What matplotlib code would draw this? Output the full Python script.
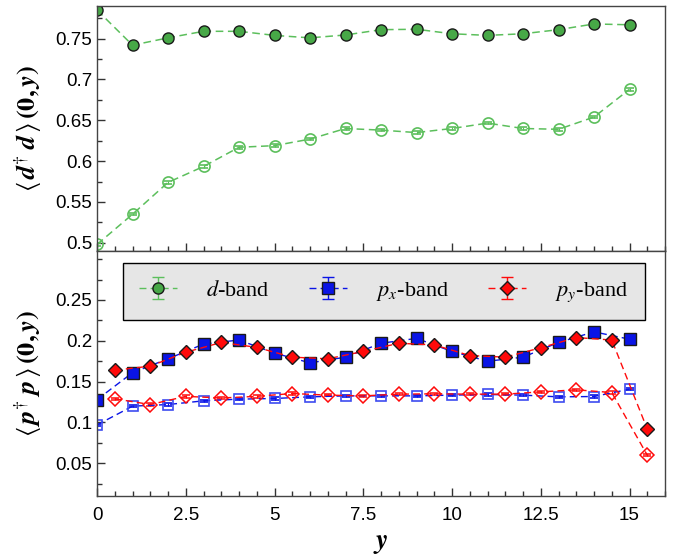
import matplotlib
matplotlib.use("Agg")
import matplotlib.pyplot as plt
import numpy as np
from matplotlib.ticker import MultipleLocator, FixedLocator, FuncFormatter

plt.rcParams['font.family'] = ['Liberation Sans', 'DejaVu Sans']
plt.rcParams['mathtext.fontset'] = 'stix'

# site positions along y
y_int = np.arange(0, 16)
y_half = np.arange(0.5, 16.0, 1.0)

# d-band: filled and open series
d_filled = [0.785, 0.742, 0.751, 0.759, 0.759, 0.754, 0.751, 0.7545,
            0.761, 0.7615, 0.756, 0.754, 0.756, 0.761, 0.768, 0.767]
d_open = [0.498, 0.535, 0.574, 0.5935, 0.617, 0.619, 0.627, 0.640,
          0.638, 0.635, 0.640, 0.6466, 0.640, 0.639, 0.654, 0.688]

# px-band (integer sites)
px_filled = [0.128, 0.161, 0.178, 0.196, 0.201, 0.185, 0.173, 0.180,
             0.197, 0.203, 0.187, 0.175, 0.180, 0.198, 0.211, 0.202]
px_open = [0.097, 0.120, 0.122, 0.1265, 0.1286, 0.1294, 0.1314, 0.1326,
           0.1326, 0.1326, 0.1335, 0.1343, 0.1335, 0.1314, 0.1318, 0.1408]

# py-band (half-integer sites)
py_filled = [0.164, 0.169, 0.186, 0.198, 0.192, 0.180, 0.178, 0.187,
             0.197, 0.195, 0.182, 0.180, 0.1915, 0.204, 0.201, 0.092]
py_open = [0.129, 0.122, 0.132, 0.130, 0.132, 0.1355, 0.1335, 0.1326,
           0.1347, 0.1351, 0.1347, 0.1347, 0.1375, 0.140, 0.1367, 0.060]

err = 0.0015

green_face = '#47a847'
green_line = '#5cbf5c'
blue = '#0a14e6'
red = '#ff0a0a'

fig = plt.figure(figsize=(6.79, 5.60), dpi=100)
ax1 = fig.add_axes([0.1429, 0.5518, 0.8365, 0.4375])
ax2 = fig.add_axes([0.1429, 0.1143, 0.8365, 0.4375])

dash = (0, (5, 3))

# top panel
ax1.errorbar(y_int, d_open, yerr=err, fmt='o', ls=dash, lw=1.1,
             color=green_line, mfc='none', mec=green_line, mew=1.2, ms=8,
             ecolor=green_line, elinewidth=0.8, capsize=3)
ax1.errorbar(y_int, d_filled, yerr=err, fmt='o', ls=dash, lw=1.1,
             color=green_line, mfc=green_face, mec='#1a1a1a', mew=1.0, ms=8,
             ecolor=green_line, elinewidth=0.8, capsize=3)

# bottom panel
ax2.errorbar(y_int, px_open, yerr=err, fmt='s', ls=dash, lw=1.0,
             color=blue, mfc='none', mec='#3d4cf0', mew=1.2, ms=7.5,
             ecolor=blue, elinewidth=0.8, capsize=3)
ax2.errorbar(y_half, py_open, yerr=err, fmt='D', ls=dash, lw=1.0,
             color=red, mfc='none', mec=red, mew=1.1, ms=7.5,
             ecolor=red, elinewidth=0.8, capsize=3)
ax2.errorbar(y_int, px_filled, yerr=err, fmt='s', ls=dash, lw=1.0,
             color=blue, mfc=blue, mec='#1a1a1a', mew=1.0, ms=8,
             ecolor=blue, elinewidth=0.8, capsize=3)
ax2.errorbar(y_half, py_filled, yerr=err, fmt='D', ls=dash, lw=1.0,
             color=red, mfc=red, mec='#1a1a1a', mew=1.0, ms=7.5,
             ecolor=red, elinewidth=0.8, capsize=3)

# legend handles
hd = ax2.errorbar([np.nan], [np.nan], yerr=[1], fmt='o', ls=dash, lw=1.0,
                  color=green_line, mfc=green_face, mec='#1a1a1a', ms=8,
                  ecolor=green_line, capsize=4)
hl = ax2.errorbar([np.nan], [np.nan], yerr=[1], fmt='s', ls=dash, lw=1.0,
                  color=blue, mfc=blue, mec='#1a1a1a', ms=8, ecolor=blue, capsize=4)
hr = ax2.errorbar([np.nan], [np.nan], yerr=[1], fmt='D', ls=dash, lw=1.0,
                  color=red, mfc=red, mec='#1a1a1a', ms=7.5, ecolor=red, capsize=4)
leg = ax2.legend([hd, hl, hr], [r'$d$-band', r'$p_x$-band', r'$p_y$-band'],
                 loc='upper center', bbox_to_anchor=(0.505, 0.951), ncol=3,
                 borderaxespad=0, frameon=True, fancybox=False,
                 edgecolor='black', facecolor='#e6e6e6', framealpha=1.0,
                 handlelength=1.7, columnspacing=1.78, handletextpad=1.3,
                 borderpad=0.75, prop={'family': 'Liberation Serif', 'size': 16})
leg.get_frame().set_linewidth(1.0)

for ax in (ax1, ax2):
    ax.set_xlim(0, 16)
    ax.xaxis.set_major_locator(MultipleLocator(2.5))
    ax.xaxis.set_minor_locator(MultipleLocator(0.5))
    ax.yaxis.set_minor_locator(MultipleLocator(0.025))
    ax.yaxis.set_major_formatter(FuncFormatter(lambda v, p: '%g' % round(v, 4)))
    ax.xaxis.set_major_formatter(FuncFormatter(lambda v, p: '%g' % round(v, 4)))
    ax.tick_params(which='both', direction='in', top=False, right=False,
                   labelsize=13.5, width=1.0, color='#333333')
    ax.tick_params(which='major', length=6)
    ax.tick_params(which='minor', length=3.5)
    for s in ax.spines.values():
        s.set_linewidth(1.0)
        s.set_color('#444444')

ax1.set_ylim(0.49, 0.79)
ax2.set_ylim(0.01, 0.31)
ax1.yaxis.set_major_locator(FixedLocator([0.5, 0.55, 0.6, 0.65, 0.7, 0.75]))
ax2.yaxis.set_major_locator(FixedLocator([0.05, 0.1, 0.15, 0.2, 0.25]))
ax1.tick_params(axis='x', labelbottom=False)
ax2.tick_params(axis='x', pad=8)

ax1.set_ylabel(r'$\langle\,\boldsymbol{d}^{\dagger}\;\boldsymbol{d}\,\rangle\,\mathbf{(0,}\boldsymbol{y}\mathbf{)}$',
               fontsize=19, labelpad=8)
ax2.set_ylabel(r'$\langle\,\boldsymbol{p}^{\dagger}\;\boldsymbol{p}\,\rangle\,\mathbf{(0,}\boldsymbol{y}\mathbf{)}$',
               fontsize=19, labelpad=8)
ax2.set_xlabel(r'$\boldsymbol{y}$', fontsize=20, labelpad=4)

fig.savefig('out.png', dpi=100)
